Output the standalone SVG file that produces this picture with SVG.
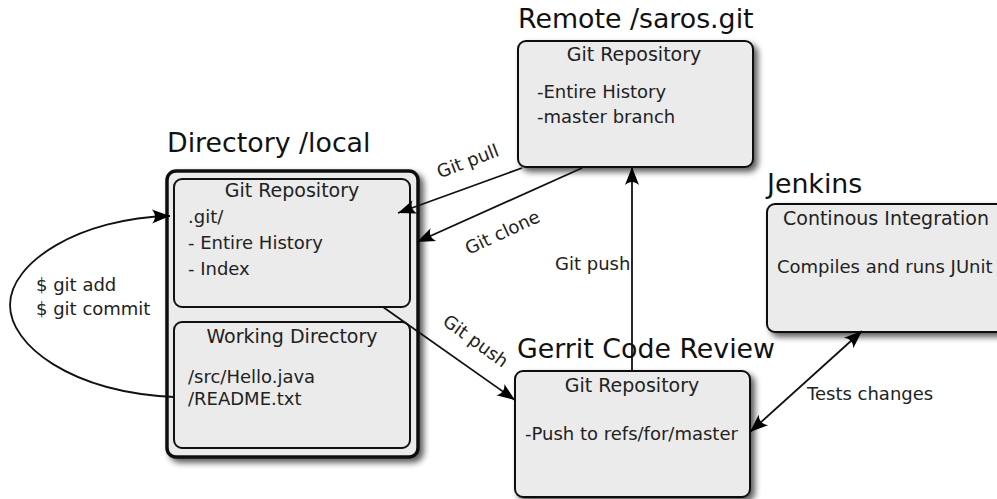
<svg xmlns="http://www.w3.org/2000/svg" width="997" height="499" viewBox="0 0 997 499">
<style>
text{font-family:"DejaVu Sans","Liberation Sans",sans-serif;fill:#222}
.title{font-size:26.8px;fill:#111}
.t{font-size:18px}
.h{font-size:19px;text-anchor:middle}
.box{fill:#ebebeb;stroke:#111;stroke-width:2}
.edge{fill:none;stroke:#111;stroke-width:1.8}
</style>
<defs>
<filter id="sh" x="-10%" y="-10%" width="130%" height="130%">
<feGaussianBlur in="SourceAlpha" stdDeviation="3"/>
<feOffset dx="4" dy="4" result="b"/>
<feComponentTransfer><feFuncA type="linear" slope="0.65"/></feComponentTransfer>
<feMerge><feMergeNode/><feMergeNode in="SourceGraphic"/></feMerge>
</filter>
<marker id="ah" viewBox="-19 -8 20 16" markerWidth="20" markerHeight="16" refX="0" refY="0" orient="auto-start-reverse" markerUnits="userSpaceOnUse">
<path d="M0,0 L-18,-7 C-14,-2.5 -14,2.5 -18,7 Z" fill="#000"/>
</marker>
</defs>

<g id="local">
<text class="title" x="167" y="152">Directory /local</text>
<rect x="167" y="171" width="251" height="286" rx="9" fill="#ebebeb" stroke="#111" stroke-width="3.5" filter="url(#sh)"/>
<rect class="box" x="174" y="179" width="236" height="128" rx="8"/>
<text class="h" x="292" y="197">Git Repository</text>
<text class="t" x="188" y="223">.git/</text>
<text class="t" x="188" y="249">- Entire History</text>
<text class="t" x="188" y="275">- Index</text>
<rect class="box" x="174" y="322" width="236" height="126" rx="8"/>
<text class="h" x="292" y="343">Working Directory</text>
<text class="t" x="188" y="383">/src/Hello.java</text>
<text class="t" x="188" y="405">/README.txt</text>
</g>

<g id="remote">
<text class="title" x="518" y="28">Remote /saros.git</text>
<rect class="box" x="518" y="41" width="235" height="126" rx="8" filter="url(#sh)"/>
<text class="h" x="634" y="61">Git Repository</text>
<text class="t" x="537" y="98">-Entire History</text>
<text class="t" x="537" y="123">-master branch</text>
</g>

<g id="gerrit">
<text class="title" x="517" y="358">Gerrit Code Review</text>
<rect class="box" x="515" y="371" width="235" height="126" rx="8" filter="url(#sh)"/>
<text class="h" x="632" y="392">Git Repository</text>
<text class="t" x="525" y="440">-Push to refs/for/master</text>
</g>

<g id="jenkins">
<text class="title" x="767" y="193">Jenkins</text>
<rect class="box" x="767" y="204" width="240" height="128" rx="8" filter="url(#sh)"/>
<text class="h" x="886" y="225">Continous Integration</text>
<text class="t" x="777" y="273">Compiles and runs JUnit</text>
</g>

<g id="connectors">
<path class="edge" d="M174,397 C70,392 10,345 10,305 C10,262 80,218 170,216" marker-end="url(#ah)"/>
<text class="t" x="36" y="291">$ git add</text>
<text class="t" x="36" y="315">$ git commit</text>

<path class="edge" d="M522,168 L398,213" marker-end="url(#ah)"/>
<text class="t" transform="translate(470,167) rotate(-21)" text-anchor="middle">Git pull</text>

<path class="edge" d="M582,168 L417,242" marker-end="url(#ah)"/>
<text class="t" transform="translate(505,238) rotate(-25)" text-anchor="middle">Git clone</text>

<path class="edge" d="M383,307 L515,400" marker-end="url(#ah)"/>
<text class="t" transform="translate(472,346) rotate(36)" text-anchor="middle">Git push</text>

<path class="edge" d="M632,371 L632,167" marker-end="url(#ah)"/>
<text class="t" x="555" y="270">Git push</text>

<path class="edge" d="M750,432 L862,331" marker-start="url(#ah)" marker-end="url(#ah)"/>
<text class="t" x="807" y="400">Tests changes</text>
</g>
</svg>
